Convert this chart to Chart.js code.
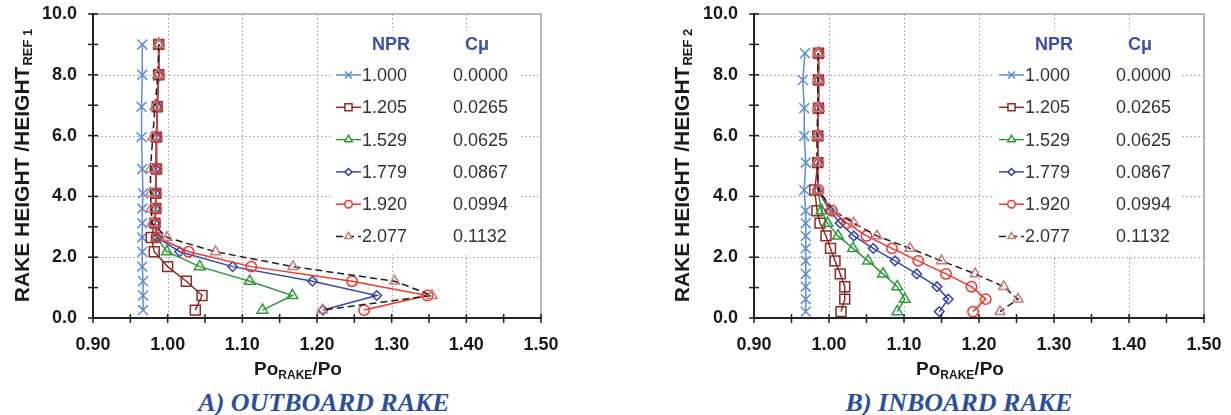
<!DOCTYPE html>
<html>
<head>
<meta charset="utf-8">
<title>Rake total pressure profiles</title>
<script src="https://cdn.jsdelivr.net/npm/chart.js@4.4.1/dist/chart.umd.min.js"></script>
<style>
  html, body { margin: 0; padding: 0; background: #fff; }
  body { width: 1231px; height: 415px; position: relative; overflow: hidden; }
  .panel { position: absolute; top: 0; height: 382px; }
  .caption { position: absolute; top: 388px; height: 27px; line-height: 26px; text-align: center;
    font: italic bold 26px "Liberation Serif", "Times New Roman", serif; color: #2b4f9e; white-space: nowrap; }
</style>
</head>
<body>
<div class="panel" style="left:0;width:570px"><canvas id="outboardChart"></canvas></div>
<div class="panel" style="left:660px;width:571px"><canvas id="inboardChart"></canvas></div>
<div class="caption" style="left:124px;width:400px">A) OUTBOARD RAKE</div>
<div class="caption" style="left:759px;width:400px">B) INBOARD RAKE</div>

<script>
// Datos
var nprLabels = ['1.000', '1.205', '1.529', '1.779', '1.920', '2.077'];
var cmuLabels = ['0.0000', '0.0265', '0.0625', '0.0867', '0.0994', '0.1132'];
var xTickLabels = ['0.90', '1.00', '1.10', '1.20', '1.30', '1.40', '1.50'];
var yTickLabels = ['0.0', '2.0', '4.0', '6.0', '8.0', '10.0'];

// Rake exterior (A)
var heightOutboard = [9.0, 8.0, 6.95, 5.95, 4.9, 4.1, 3.6, 3.12, 2.65, 2.18, 1.69, 1.21, 0.74, 0.26];
var outNpr1000 = [0.966, 0.966, 0.965, 0.965, 0.966, 0.967, 0.966, 0.966, 0.966, 0.966, 0.966, 0.967, 0.967, 0.967];
var outNpr1205 = [0.988, 0.988, 0.986, 0.985, 0.985, 0.984, 0.984, 0.983, 0.978, 0.982, 1.000, 1.025, 1.046, 1.037];
var outNpr1529 = [0.988, 0.988, 0.986, 0.985, 0.985, 0.984, 0.984, 0.983, 0.985, 0.999, 1.043, 1.110, 1.167, 1.127];
var outNpr1779 = [0.988, 0.988, 0.986, 0.985, 0.984, 0.984, 0.984, 0.983, 0.986, 1.016, 1.087, 1.194, 1.280, 1.208];
var outNpr1920 = [0.988, 0.988, 0.986, 0.985, 0.985, 0.984, 0.984, 0.983, 0.987, 1.028, 1.112, 1.247, 1.348, 1.263];
var outNpr2077 = [0.988, 0.987, 0.983, 0.980, 0.977, 0.977, 0.978, 0.979, 0.999, 1.064, 1.168, 1.304, 1.354, 1.207];

// Rake interior (B)
var heightInboard = [8.71, 7.83, 6.90, 5.99, 5.11, 4.21, 3.53, 3.12, 2.70, 2.29, 1.88, 1.45, 1.03, 0.62, 0.21];
var inNpr1000 = [0.968, 0.965, 0.967, 0.967, 0.969, 0.967, 0.969, 0.969, 0.969, 0.969, 0.969, 0.969, 0.969, 0.969, 0.969];
var inNpr1205 = [0.986, 0.986, 0.986, 0.985, 0.985, 0.981, 0.984, 0.988, 0.996, 1.002, 1.008, 1.015, 1.021, 1.021, 1.016];
var inNpr1529 = [0.986, 0.986, 0.986, 0.985, 0.985, 0.985, 0.990, 0.998, 1.012, 1.032, 1.052, 1.072, 1.091, 1.101, 1.091];
var inNpr1779 = [0.986, 0.986, 0.986, 0.985, 0.985, 0.985, 1.001, 1.015, 1.033, 1.059, 1.088, 1.117, 1.144, 1.159, 1.147];
var inNpr1920 = [0.986, 0.986, 0.986, 0.985, 0.985, 0.986, 1.004, 1.024, 1.050, 1.084, 1.119, 1.156, 1.190, 1.209, 1.192];
var inNpr2077 = [0.985, 0.985, 0.985, 0.984, 0.984, 0.986, 1.006, 1.033, 1.064, 1.108, 1.150, 1.195, 1.233, 1.252, 1.228];

// Estilos de cada serie
var seriesStyle = [
    { color: '#5b8bd9', point: 'crossRot', radius: 7 },
    { color: '#8e2b22', point: 'rect', radius: 7 },
    { color: '#2f9b3b', point: 'triangle', radius: 6.2 },
    { color: '#3447ad', point: 'rectRot', radius: 4.8 },
    { color: '#f2352b', point: 'circle', radius: 5.2 },
    { color: '#1e1e1e', pointColor: '#c77b7b', point: 'triangle', radius: 5.8, dash: [7, 4] }
];

var FONT = '"Liberation Sans", Arial, sans-serif';

function isMajorX(v) { return xTickLabels.indexOf(v.toFixed(2)) >= 0; }
function isMajorY(v) { return yTickLabels.indexOf(v.toFixed(1)) >= 0; }

function strokeLine(ctx, x1, y1, x2, y2) {
    ctx.beginPath();
    ctx.moveTo(x1, y1);
    ctx.lineTo(x2, y2);
    ctx.stroke();
}

// el area de trazado la fija layout.padding, no el tamano de las etiquetas
function noAutoPadding(s) {
    s.paddingLeft = 0;
    s.paddingRight = 0;
    s.paddingTop = 0;
    s.paddingBottom = 0;
}

// Plugin: rejilla, ejes, titulos y leyenda tipo tabla
var rakeDecor = {
    id: 'rakeDecor',
    beforeDatasetsDraw: function (chart) {
        var ctx = chart.ctx, a = chart.chartArea, x = chart.scales.x, y = chart.scales.y;
        ctx.save();
        ctx.lineWidth = 1;
        ctx.strokeStyle = '#b4b4b4';
        ctx.setLineDash([2, 2]);
        x.ticks.forEach(function (t) {
            if (!isMajorX(t.value) || t.value <= x.min + 1e-9 || t.value >= x.max - 1e-9) return;
            var px = Math.round(x.getPixelForValue(t.value)) + 0.5;
            strokeLine(ctx, px, a.top, px, a.bottom);
        });
        y.ticks.forEach(function (t) {
            if (!isMajorY(t.value) || t.value <= y.min + 1e-9 || t.value >= y.max - 1e-9) return;
            var py = Math.round(y.getPixelForValue(t.value)) + 0.5;
            strokeLine(ctx, a.left, py, a.right, py);
        });
        ctx.setLineDash([]);
        ctx.strokeStyle = '#a0a0a0';
        ctx.lineWidth = 1.5;
        ctx.beginPath();
        ctx.moveTo(a.left, a.top);
        ctx.lineTo(a.right, a.top);
        ctx.lineTo(a.right, a.bottom);
        ctx.stroke();
        // fondo blanco de la leyenda
        ctx.fillStyle = '#ffffff';
        ctx.fillRect(a.right - 210, a.top + 17, 188, 224);
        ctx.restore();
    },
    afterDraw: function (chart, args, opts) {
        var ctx = chart.ctx, a = chart.chartArea, x = chart.scales.x, y = chart.scales.y;
        ctx.save();

        // ejes
        ctx.strokeStyle = '#222';
        ctx.lineWidth = 2;
        strokeLine(ctx, a.left, a.top - 1, a.left, a.bottom + 1);
        strokeLine(ctx, a.left - 1, a.bottom, a.right + 1, a.bottom);
        ctx.lineWidth = 1.5;
        x.ticks.forEach(function (t) {
            var px = x.getPixelForValue(t.value);
            strokeLine(ctx, px, a.bottom - 4, px, a.bottom + 5);
        });
        y.ticks.forEach(function (t) {
            var py = y.getPixelForValue(t.value);
            strokeLine(ctx, a.left - 5, py, a.left + 5, py);
        });

        // titulo eje Y con subindice
        ctx.fillStyle = '#1a1a1a';
        ctx.textBaseline = 'alphabetic';
        ctx.textAlign = 'left';
        ctx.translate(opts.yTitleX, (a.top + a.bottom) / 2);
        ctx.rotate(-Math.PI / 2);
        ctx.font = 'bold 21px ' + FONT;
        var main = 'RAKE HEIGHT /HEIGHT';
        var w1 = ctx.measureText(main).width;
        ctx.font = 'bold 13px ' + FONT;
        var w2 = ctx.measureText(opts.refSub).width;
        var start = -(w1 + w2) / 2;
        ctx.font = 'bold 21px ' + FONT;
        ctx.fillText(main, start, 9);
        ctx.font = 'bold 13px ' + FONT;
        ctx.fillText(opts.refSub, start + w1 + 1, 12);
        ctx.setTransform(1, 0, 0, 1, 0, 0);

        // titulo eje X: Po_RAKE/Po
        var cx = (a.left + a.right) / 2 - 19;
        ctx.font = 'bold 19px ' + FONT;
        var p1 = ctx.measureText('Po').width, p3 = ctx.measureText('/Po').width;
        ctx.font = 'bold 12px ' + FONT;
        var p2 = ctx.measureText('RAKE').width;
        var sx = cx - (p1 + p2 + p3) / 2;
        ctx.font = 'bold 19px ' + FONT;
        ctx.fillText('Po', sx, 375);
        ctx.fillText('/Po', sx + p1 + p2, 375);
        ctx.font = 'bold 12px ' + FONT;
        ctx.fillText('RAKE', sx + p1, 379);

        // leyenda tipo tabla
        var r = a.right;
        ctx.textBaseline = 'middle';
        ctx.fillStyle = '#3a4fa8';
        ctx.font = 'bold 18px ' + FONT;
        ctx.textAlign = 'right';
        ctx.fillText('NPR', r - 131, a.top + 31);
        ctx.textAlign = 'left';
        ctx.fillText('C\u03bc', r - 76, a.top + 31);

        chart.data.datasets.forEach(function (ds, i) {
            var st = seriesStyle[i];
            var ly = a.top + 61 + i * 32.3;
            ctx.strokeStyle = ds.borderColor;
            ctx.lineWidth = 1.5;
            ctx.setLineDash(st.dash || []);
            strokeLine(ctx, r - 205, ly, r - 180, ly);
            ctx.setLineDash([]);
            ctx.strokeStyle = st.pointColor || st.color;
            ctx.fillStyle = '#ffffff';
            if (Chart.helpers && Chart.helpers.drawPoint) {
                Chart.helpers.drawPoint(ctx, {
                    pointStyle: st.point, radius: st.radius * 0.72, rotation: 0, borderWidth: 1.3
                }, r - 192.5, ly);
            }
            ctx.fillStyle = '#333333';
            ctx.font = '18px ' + FONT;
            ctx.textAlign = 'left';
            ctx.fillText(nprLabels[i], r - 179, ly + 1);
            ctx.fillText(cmuLabels[i], r - 88, ly + 1);
        });
        ctx.restore();
    }
};

function buildChart(canvasId, heights, seriesValues, refSub, axisWidth, rightPad) {
    var datasets = seriesValues.map(function (vals, i) {
        var st = seriesStyle[i];
        return {
            label: nprLabels[i],
            data: vals.map(function (v, k) { return { x: v, y: heights[k] }; }),
            showLine: true,
            borderColor: st.color,
            borderWidth: 1.5,
            borderDash: st.dash || [],
            pointStyle: st.point,
            pointRadius: st.radius,
            pointBorderColor: st.pointColor || st.color,
            pointBackgroundColor: 'rgba(255,255,255,0)',
            pointBorderWidth: 1.5,
            order: -i
        };
    });

    var ctx = document.getElementById(canvasId).getContext('2d');
    return new Chart(ctx, {
        type: 'scatter',
        data: { datasets: datasets },
        options: {
            responsive: true,
            maintainAspectRatio: false,
            animation: false,
            devicePixelRatio: 1,
            layout: { padding: { top: 14, right: rightPad, left: 0, bottom: 0 } },
            scales: {
                x: {
                    type: 'linear',
                    min: 0.9,
                    max: 1.5,
                    grid: { display: false, drawTicks: false },
                    border: { display: false },
                    afterFit: function (s) { s.height = 64; noAutoPadding(s); },
                    ticks: {
                        stepSize: 0.05,
                        autoSkip: false,
                        maxRotation: 0,
                        padding: 16,
                        color: '#1a1a1a',
                        font: { family: FONT, size: 18, weight: 'bold' },
                        callback: function (v) { return isMajorX(v) ? v.toFixed(2) : ''; }
                    }
                },
                y: {
                    type: 'linear',
                    min: 0,
                    max: 10,
                    grid: { display: false, drawTicks: false },
                    border: { display: false },
                    afterFit: function (s) { s.width = axisWidth; noAutoPadding(s); },
                    ticks: {
                        stepSize: 1,
                        autoSkip: false,
                        padding: 16,
                        color: '#1a1a1a',
                        font: { family: FONT, size: 18, weight: 'bold' },
                        callback: function (v) { return isMajorY(v) ? v.toFixed(1) : ''; }
                    }
                }
            },
            plugins: {
                legend: { display: false },
                tooltip: { enabled: false },
                rakeDecor: { refSub: refSub, yTitleX: 20 }
            }
        },
        plugins: [rakeDecor]
    });
}

document.addEventListener('DOMContentLoaded', function () {
    buildChart('outboardChart', heightOutboard,
        [outNpr1000, outNpr1205, outNpr1529, outNpr1779, outNpr1920, outNpr2077], 'REF 1', 93, 29);
    buildChart('inboardChart', heightInboard,
        [inNpr1000, inNpr1205, inNpr1529, inNpr1779, inNpr1920, inNpr2077], 'REF 2', 94, 27);
});
</script>
</body>
</html>
